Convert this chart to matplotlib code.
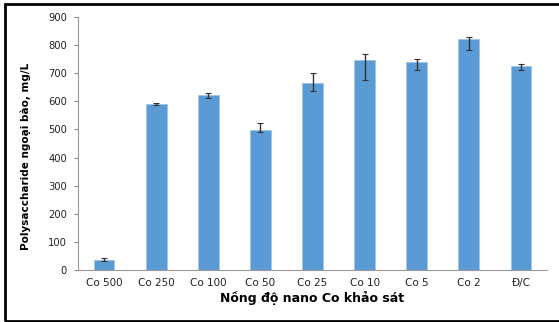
import matplotlib
matplotlib.use("Agg")
import matplotlib.pyplot as plt
from matplotlib.patches import Rectangle
import numpy as np

# data
categories = ["Co 500", "Co 250", "Co 100", "Co 50", "Co 25", "Co 10", "Co 5", "Co 2", "Đ/C"]
polysaccharide = [37, 590, 622, 499, 664, 746, 739, 821, 727]
err_low = [4, 3, 9, 7, 26, 71, 28, 37, 16]
err_high = [4, 3, 9, 23, 36, 22, 11, 8, 6]
y_ticks = [0, 100, 200, 300, 400, 500, 600, 700, 800, 900]

plt.rcParams["font.family"] = ["DejaVu Sans"]

W, H = 559, 322
fig = plt.figure(figsize=(W / 100, H / 100), dpi=100)
ax = fig.add_axes([78 / W, 1 - 270 / H, (547 - 78) / W, (270 - 17) / H])

x = np.arange(len(categories))
ax.bar(x, polysaccharide, width=0.4, color="#5B9BD5", edgecolor="#9CC3E6", linewidth=0.6,
       yerr=[err_low, err_high], capsize=2.5,
       error_kw=dict(ecolor="#333333", elinewidth=1.0, capthick=0.8))

ax.set_xlim(-0.5, len(categories) - 0.5)
ax.set_ylim(0, 900)
ax.set_yticks(y_ticks)
ax.set_xticks(x)
ax.set_xticklabels(categories, fontsize=7.5, color="#222222")
ax.tick_params(axis="y", labelsize=7.2, colors="#222222", length=3, color="#888888", pad=5)
ax.tick_params(axis="x", length=0, pad=6)

for s in ["top", "right"]:
    ax.spines[s].set_visible(False)
for s in ["left", "bottom"]:
    ax.spines[s].set_color("#999999")
    ax.spines[s].set_linewidth(0.8)

ax.set_ylabel("Polysaccharide ngoại bào, mg/L", fontsize=7.5, fontweight="bold")
ax.yaxis.set_label_coords(-0.1, 0.45)
ax.set_xlabel("Nồng độ nano Co khảo sát", fontsize=9, fontweight="bold", labelpad=2)

# black frame around the figure
fig.patches.append(Rectangle((5 / W, 1 / H), 1.2, 317 / H, transform=fig.transFigure,
                             fill=False, edgecolor="black", linewidth=2.0))

fig.savefig("out.png", dpi=100)
